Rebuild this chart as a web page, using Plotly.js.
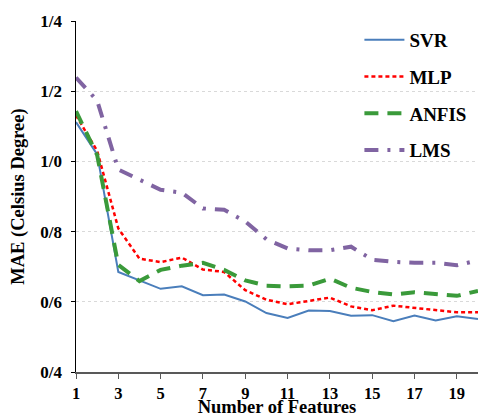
<!DOCTYPE html>
<html>
<head>
<meta charset="utf-8">
<script src="https://cdn.plot.ly/plotly-3.0.1.min.js"></script>
<style>html,body{margin:0;padding:0;background:#fff}#chart{width:478px;height:417px}</style>
</head>
<body>
<div id="chart"></div>
<script>
var features = [1,2,3,4,5,6,7,8,9,10,11,12,13,14,15,16,17,18,19,20];
var svr   = [1.112,1.020,0.685,0.661,0.637,0.644,0.619,0.621,0.601,0.568,0.554,0.575,0.574,0.560,0.562,0.545,0.561,0.547,0.559,0.551];
var mlp   = [1.131,1.030,0.809,0.723,0.713,0.726,0.692,0.685,0.633,0.606,0.593,0.602,0.612,0.587,0.576,0.589,0.583,0.576,0.570,0.570];
var anfis = [1.143,1.018,0.705,0.659,0.691,0.703,0.711,0.691,0.661,0.646,0.644,0.646,0.666,0.640,0.628,0.621,0.627,0.621,0.617,0.631];
var lms   = [1.239,1.173,0.977,0.947,0.919,0.911,0.866,0.862,0.829,0.778,0.752,0.747,0.747,0.757,0.720,0.714,0.711,0.711,0.704,0.718];
var seriesNames = ["SVR","MLP","ANFIS","LMS"];
var yTickVals = [0.4,0.6,0.8,1.0,1.2,1.4];
var yTickText = ["0/4","0/6","0/8","1/0","1/2","1/4"];
var xTickVals = [1,3,5,7,9,11,13,15,17,19];
var xTitle = "Number of Features";
var yTitle = "MAE (Celsius Degree)";

function b(s){ return "<b>" + s + "</b>"; }
var fam = "Liberation Serif";
var tickFont = {family:fam, size:17, color:"#000"};
var xTickFont = {family:fam, size:16.5, color:"#000"};
var titleFont = {family:fam, size:18.5, color:"#000"};
var legFont = {family:fam, size:19, color:"#000"};

var traces = [
  {x:features, y:svr, name:b(seriesNames[0]), mode:"lines", legendgroup:"a",
   line:{color:"#4a7ebb", width:2}},
  {x:features, y:mlp, name:b(seriesNames[1]), mode:"lines", legendgroup:"b",
   line:{color:"#ff0000", width:2.5, dash:"4px,3px"}},
  {x:features, y:anfis, name:b(seriesNames[2]), mode:"lines", legendgroup:"c",
   line:{color:"#3a9a3a", width:4, dash:"14px,9px"}},
  {x:features, y:lms, name:b(seriesNames[3]), mode:"lines", legendgroup:"d",
   line:{color:"#8064a2", width:4, dash:"14px,9px,3px,9px"}}
];

var layout = {
  width:478, height:417,
  margin:{l:76, r:0, t:21, b:45},
  paper_bgcolor:"#fff", plot_bgcolor:"#fff",
  showlegend:true,
  legend:{x:0.705, y:1.0, xanchor:"left", yanchor:"top", bgcolor:"rgba(0,0,0,0)",
          font:legFont, traceorder:"grouped", tracegroupgap:9, itemwidth:40},
  xaxis:{range:[1,20], tickmode:"array", tickvals:xTickVals, ticktext:xTickVals.map(function(v){return b(v);}),
         ticks:"outside", ticklen:5, ticklabelstandoff:1,
         tickcolor:"#595959", showline:true, linecolor:"#595959", linewidth:1.5,
         showgrid:false, zeroline:false, tickfont:xTickFont,
         title:{text:b(xTitle), font:titleFont, standoff:3}},
  yaxis:{range:[0.4,1.4], tickmode:"array", tickvals:yTickVals, ticktext:yTickText.map(b),
         ticks:"outside", ticklen:4, ticklabelstandoff:5, tickcolor:"#000", showline:true, linecolor:"#000", linewidth:1.5,
         showgrid:true, gridcolor:"#d9d9d9", griddash:"dot", gridwidth:1, zeroline:false,
         tickfont:tickFont, title:{text:b(yTitle), font:titleFont, standoff:11}}
};

Plotly.newPlot("chart", traces, layout, {staticPlot:true, displayModeBar:false});
</script>
</body>
</html>
